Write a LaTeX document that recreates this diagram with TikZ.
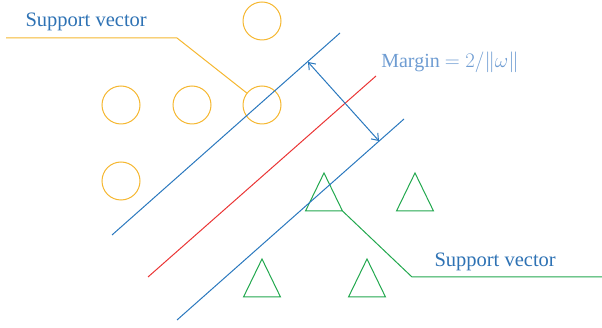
\documentclass[tikz,border=0pt]{standalone}
\usepackage{fontspec}
\setmainfont{Liberation Serif}
\usepackage{tikz}
\usetikzlibrary{arrows.meta,shapes.geometric}

\definecolor{svorange}{HTML}{F5B730}
\definecolor{svblue}{HTML}{2A78BE}
\definecolor{svred}{HTML}{EA3535}
\definecolor{svgreen}{HTML}{22A84E}
\definecolor{labelblue}{HTML}{2E72B4}
\definecolor{marginblue}{HTML}{6E9CD2}

\begin{document}
\begin{tikzpicture}[x=1pt, y=-1pt, line width=1pt,
    classA/.style={circle,draw=svorange,minimum size=38pt,inner sep=0pt,outer sep=0pt},
    classB/.style={isosceles triangle,isosceles triangle stretches,shape border rotate=90,
        draw=svgreen,minimum width=37pt,minimum height=38pt,inner sep=0pt,outer sep=0pt,anchor=apex},
    lbl/.style={font=\fontsize{20.5}{24}\selectfont,text=labelblue,inner sep=0pt}]
    \useasboundingbox (0,0) rectangle (602,328);

    % circles
    \node[classA] (a1) at (262,21) {};
    \node[classA] (a2) at (121,105) {};
    \node[classA] (a3) at (192,105) {};
    \node[classA] (a4) at (262,105) {};
    \node[classA] (a5) at (121,181) {};

    % triangles (placed by their apex)
    \node[classB] (b1) at (324,173) {};
    \node[classB] (b2) at (415,173) {};
    \node[classB] (b3) at (262,259) {};
    \node[classB] (b4) at (367,259) {};

    % hyperplanes
    \coordinate (h1s) at (112,235);
    \coordinate (h1e) at (340,33);
    \coordinate (h0s) at (148,277);
    \coordinate (h0e) at (376,76);
    \coordinate (h2s) at (177,320);
    \coordinate (h2e) at (404,119);
    \draw[svblue] (h1s) -- (h1e);
    \draw[svred] (h0s) -- (h0e);
    \draw[svblue] (h2s) -- (h2e);

    % margin
    \coordinate (m1) at (308,62);
    \coordinate (m2) at (379,141);
    \draw[svblue,{Straight Barb[length=6pt,width=9pt]}-{Straight Barb[length=6pt,width=9pt]}] (m1) -- (m2);
    \node[font=\fontsize{20}{24}\selectfont,text=marginblue,inner sep=0pt] (margin) at (450,62) {Margin $=2/\|\omega\|$};

    % support vector labels
    \node[lbl,anchor=base west] (sv1) at (25,27) {Support vector};
    \coordinate (l1a) at (6,38);
    \coordinate (l1b) at (177,38);
    \draw[svorange] (l1a) -- (l1b) -- (a4);

    \node[lbl,anchor=base west] (sv2) at (434,267) {Support vector};
    \coordinate (l2a) at (412,277);
    \coordinate (l2b) at (602,277);
    \draw[svgreen] (b1.right corner) -- (l2a) -- (l2b);
\end{tikzpicture}
\end{document}
